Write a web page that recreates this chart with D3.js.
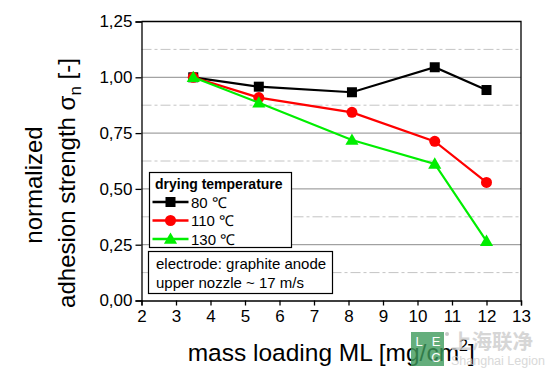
<!DOCTYPE html>
<html>
<head>
<meta charset="utf-8">
<script src="https://cdn.jsdelivr.net/npm/d3@7"></script>
<style>
  body { margin: 0; background: #fff; }
  text { font-family: Arial, "Liberation Sans", sans-serif; }
</style>
</head>
<body>
<div id="chart"></div>
<script>
// mass loading values (mg/cm2)
const massLoading = [3.5, 5.4, 8.1, 10.5, 12];
const t80 = [1.0, 0.958, 0.933, 1.045, 0.943];
const t110 = [1.0, 0.909, 0.843, 0.713, 0.529];
const t130 = [1.0, 0.886, 0.719, 0.612, 0.266];
const seriesNames = ["80 \u2103", "110 \u2103", "130 \u2103"];
const seriesColors = ["#000000", "#ff0000", "#00ee00"];
const seriesShapes = ["square", "circle", "triangle"];
const xTicks = [2, 3, 4, 5, 6, 7, 8, 9, 10, 11, 12, 13];
const yTicks = [0, 0.25, 0.5, 0.75, 1.0, 1.25];
const yMinor = [0.125, 0.375, 0.625, 0.875, 1.125];

const width = 546, height = 376;
const margin = { top: 21.5, right: 25, bottom: 75.5, left: 141.5 };

const svg = d3.select("#chart").append("svg")
  .attr("width", width)
  .attr("height", height);

const x = d3.scaleLinear().domain([2, 13]).range([margin.left, width - margin.right]);
const y = d3.scaleLinear().domain([0, 1.25]).range([height - margin.bottom, margin.top]);

const fmt = d => d3.format(".2f")(d).replace(".", ",");

// grid lines
svg.append("g").selectAll("line")
  .data(yTicks.slice(1, -1))
  .join("line")
  .attr("x1", x(2)).attr("x2", x(13))
  .attr("y1", d => y(d)).attr("y2", d => y(d))
  .attr("stroke", "#8c8c8c").attr("stroke-width", 1);

svg.append("g").selectAll("line")
  .data(yMinor)
  .join("line")
  .attr("x1", x(2)).attr("x2", x(13))
  .attr("y1", d => y(d)).attr("y2", d => y(d))
  .attr("stroke", "#c4c4c4").attr("stroke-width", 1)
  .attr("stroke-dasharray", "10,3,3,3");

// axes
const xAxis = svg.append("g")
  .attr("transform", `translate(0,${y(0)})`)
  .call(d3.axisBottom(x).tickValues(xTicks).tickSize(5).tickPadding(4).tickFormat(d3.format("d")));
const yAxis = svg.append("g")
  .attr("transform", `translate(${x(2)},0)`)
  .call(d3.axisLeft(y).tickValues(yTicks).tickSize(6).tickPadding(3).tickFormat(fmt));

[xAxis, yAxis].forEach(a => {
  a.select(".domain").attr("stroke", "#000").attr("stroke-width", 1.3);
  a.selectAll(".tick line").attr("stroke", "#000").attr("stroke-width", 1.3);
  a.selectAll(".tick text").attr("font-size", 17).attr("fill", "#000")
    .style("font-family", "Arial, 'Liberation Sans', sans-serif");
});

// top + right frame
svg.append("path")
  .attr("d", `M${x(2)},${y(1.25)}H${x(13)}V${y(0)}`)
  .attr("fill", "none").attr("stroke", "#000").attr("stroke-width", 1.3);

// lines and markers
const allSeries = [t80, t110, t130];
const line = d3.line().x(d => x(d[0])).y(d => y(d[1]));

function marker(g, shape, color, cx, cy) {
  if (shape === "square") {
    g.append("rect").attr("x", cx - 5).attr("y", cy - 5).attr("width", 10).attr("height", 10).attr("fill", color);
  } else if (shape === "circle") {
    g.append("circle").attr("cx", cx).attr("cy", cy).attr("r", 5.5).attr("fill", color);
  } else {
    g.append("path")
      .attr("d", d3.symbol().type(d3.symbolTriangle).size(75)())
      .attr("transform", `translate(${cx},${cy + 1})`)
      .attr("fill", color);
  }
}

allSeries.forEach((vals, i) => {
  const pts = massLoading.map((m, j) => [m, vals[j]]);
  const g = svg.append("g");
  g.append("path").attr("d", line(pts))
    .attr("fill", "none").attr("stroke", seriesColors[i]).attr("stroke-width", 2.2);
  pts.forEach(p => marker(g, seriesShapes[i], seriesColors[i], x(p[0]), y(p[1])));
});

// legend
const lg = svg.append("g");
lg.append("rect").attr("x", 149.5).attr("y", 172.5).attr("width", 142).attr("height", 75)
  .attr("fill", "#fff").attr("stroke", "#000").attr("stroke-width", 1.2);
lg.append("text").attr("x", 155).attr("y", 189).attr("font-size", 14).attr("font-weight", "bold")
  .text("drying temperature");
seriesNames.forEach((name, i) => {
  const ly = 202 + i * 18.5;
  lg.append("line").attr("x1", 152.5).attr("x2", 188.5).attr("y1", ly).attr("y2", ly)
    .attr("stroke", seriesColors[i]).attr("stroke-width", 2.5);
  marker(lg, seriesShapes[i], seriesColors[i], 170.5, ly);
  lg.append("text").attr("x", 191).attr("y", ly + 5.5).attr("font-size", 15).text(name);
});

// annotation box
const ab = svg.append("g");
ab.append("rect").attr("x", 148.5).attr("y", 251.5).attr("width", 184).attr("height", 42)
  .attr("fill", "#fff").attr("stroke", "#000").attr("stroke-width", 1.2);
ab.append("text").attr("x", 156).attr("y", 269).attr("font-size", 15).text("electrode: graphite anode");
ab.append("text").attr("x", 156).attr("y", 287.5).attr("font-size", 15).text("upper nozzle ~ 17 m/s");

// axis titles
const xt = svg.append("text")
  .attr("x", (x(2) + x(13)) / 2).attr("y", 361)
  .attr("text-anchor", "middle").attr("font-size", 24.5);
xt.append("tspan").text("mass loading ML [mg/cm");
xt.append("tspan").attr("font-size", 16).attr("dy", -10).text("2");
xt.append("tspan").attr("dy", 10).text("]");

const yt = svg.append("text")
  .attr("transform", `translate(42,185) rotate(-90)`)
  .attr("text-anchor", "middle").attr("font-size", 24);
yt.append("tspan").text("normalized");
const l2 = svg.append("text")
  .attr("transform", `translate(75,183) rotate(-90)`)
  .attr("text-anchor", "middle").attr("font-size", 24);
l2.append("tspan").text("adhesion strength \u03c3");
l2.append("tspan").attr("font-size", 17).attr("dy", 6).text("n");
l2.append("tspan").attr("dy", -6).text(" [-]");

// watermark
const wm = svg.append("g").attr("opacity", 0.8);
wm.append("rect").attr("x", 411).attr("y", 332).attr("width", 33).attr("height", 34).attr("fill", "#3e9a5c");
wm.append("text").attr("x", 419).attr("y", 346).attr("font-size", 13).attr("fill", "#fff").attr("text-anchor", "middle").text("L");
wm.append("text").attr("x", 436).attr("y", 346).attr("font-size", 13).attr("fill", "#fff").attr("text-anchor", "middle").text("E");
wm.append("text").attr("x", 436).attr("y", 362).attr("font-size", 13).attr("fill", "#fff").attr("text-anchor", "middle").text("C");
wm.append("circle").attr("cx", 447).attr("cy", 334).attr("r", 2).attr("fill", "#bbb");
wm.append("text").attr("x", 451).attr("y", 349).attr("font-size", 20.5).attr("fill", "#cccccc")
  .style("font-family", "'Noto Sans CJK SC', sans-serif").attr("font-weight", "bold").text("上海联净");
wm.append("text").attr("x", 451).attr("y", 365).attr("font-size", 12.5).attr("fill", "#d0d0d0").text("Shanghai Legion");
</script>
</body>
</html>
